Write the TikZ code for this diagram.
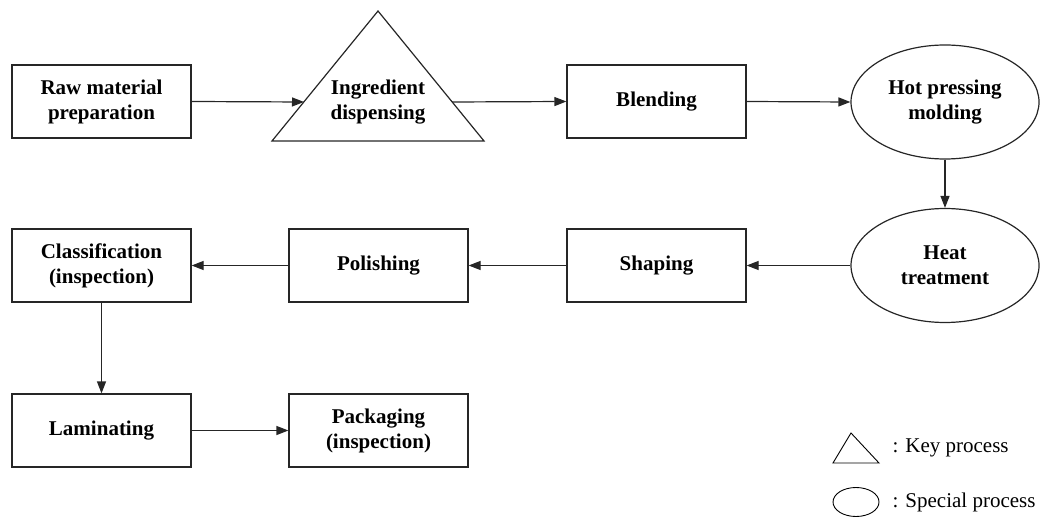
\documentclass[tikz,border=0pt]{standalone}
\usepackage{fontspec}
\setmainfont{Liberation Serif}
\usetikzlibrary{shapes.geometric,arrows.meta}
\begin{document}
\begin{tikzpicture}[x=1pt,y=-1pt,
  line width=1.2pt,
  box/.style={draw=black!85, rectangle, minimum width=179pt, minimum height=73pt, inner sep=0pt, align=center, font=\fontsize{21}{25}\selectfont\bfseries},
  oval/.style={draw=black!85, ellipse, minimum width=188pt, minimum height=114pt, inner sep=0pt, align=center, font=\fontsize{21}{25}\selectfont\bfseries},
  lbl/.style={inner sep=0pt, align=center, font=\fontsize{21}{25}\selectfont\bfseries},
  legtext/.style={inner sep=0pt, anchor=west, font=\fontsize{21}{25}\selectfont},
  arr/.style={draw=black!85, -{Triangle[length=12pt,width=9pt]}}]
\useasboundingbox (0,0) rectangle (1040,518);
% row 1
\node[box] (raw) at (101.5,101.5) {Raw material\\preparation};
\draw[draw=black!85] (272,141) -- (378,11) -- (484,141) -- cycle;
\node[lbl] (ing) at (378,102) {Ingredient\\dispensing};
\coordinate (triL) at (304,102);
\coordinate (triR) at (452,102);
\node[box] (blend) at (656.5,101.5) {Blending};
\node[oval] (hot) at (945,102) {Hot pressing\\molding};
% row 2
\node[oval] (heat) at (945,265.5) {Heat\\treatment};
\node[box] (shape) at (656.5,265.5) {Shaping};
\node[box] (polish) at (378.5,265.5) {Polishing};
\node[box] (class) at (101.5,265.5) {Classification\\(inspection)};
% row 3
\node[box] (lam) at (101.5,430.5) {Laminating};
\node[box] (pack) at (378.5,430.5) {Packaging\\(inspection)};
% connectors
\draw[arr] (raw.east) -- (triL);
\draw[arr] (triR) -- (blend.west);
\draw[arr] (blend.east) -- (hot.west);
\draw[arr] (hot.south) -- (heat.north);
\draw[arr] (heat.west) -- (shape.east);
\draw[arr] (shape.west) -- (polish.east);
\draw[arr] (polish.west) -- (class.east);
\draw[arr] (class.south) -- (lam.north);
\draw[arr] (lam.east) -- (pack.west);
% legend
\draw[line width=0.9pt] (833,463) -- (851,433) -- (879,463) -- cycle;
\node[legtext] (keyp) at (892,448) {: Key process};
\node[draw, ellipse, line width=0.9pt, minimum width=46pt, minimum height=29pt, inner sep=0pt] (legov) at (856,502) {};
\node[legtext] (specp) at (892,502) {: Special process};
\end{tikzpicture}
\end{document}
